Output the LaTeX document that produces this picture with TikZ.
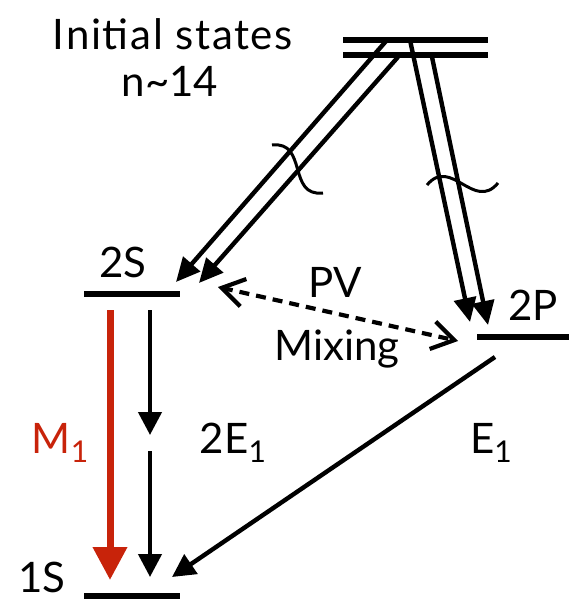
\documentclass[tikz,border=0pt]{standalone}
\usepackage{fontspec}
\setmainfont{Lato}
\usepackage{tikz}
\usetikzlibrary{arrows.meta}
\definecolor{mred}{RGB}{200,35,10}
\newcommand{\lowsub}[1]{\raisebox{-9pt}{\fontsize{30}{30}\selectfont #1}}
\tikzset{
  % --- energy levels ---------------------------------------------------------
  level/.style={line width=5.4pt},
  lab/.style={font=\fontsize{42}{42}\selectfont,anchor=base,inner sep=0pt},
  % --- transitions -----------------------------------------------------------
  cascade/.style={line width=4.4pt,-{Triangle[length=24pt,width=22pt]}},
  decay/.style={line width=4.4pt,-{Triangle[length=23pt,width=23pt]}},
  mdecay/.style={line width=7pt,draw=mred,-{Triangle[length=33pt,width=33pt]}},
  % dashed shaft and solid barbs are drawn apart, so the dashes leave the tips whole
  mixline/.style={line width=4.2pt,dash pattern=on 10pt off 7pt,
                  shorten <=5pt,shorten >=5pt},
  mixtips/.style={tips,line width=4.2pt,solid,
                  {Straight Barb[length=22pt,width=28pt]}-{Straight Barb[length=22pt,width=28pt]}},
  wiggle/.style={line width=3pt},
}

\begin{document}
\begin{tikzpicture}[x=1pt,y=-1pt]
  \useasboundingbox (0,0) rectangle (569,599);

  % levels: {left}/{right}
  \coordinate (n1l) at (343,40);  \coordinate (n1r) at (488,40);
  \coordinate (n2l) at (343,55);  \coordinate (n2r) at (488,55);
  \coordinate (s2l) at (84,294);  \coordinate (s2r) at (180,294);
  \coordinate (p2l) at (477,337); \coordinate (p2r) at (569,337);
  \coordinate (s1l) at (84,596);  \coordinate (s1r) at (180,596);
  \foreach \a/\b in {n1l/n1r,n2l/n2r,s2l/s2r,p2l/p2r,s1l/s1r}
    \draw[level] (\a) -- (\b);

  \node[lab,font=\fontsize{42}{42}\selectfont\addfontfeatures{LetterSpace=4}]
       (init) at (173,50) {Initial states};
  \node[lab] (nval) at (170,97) {n\textasciitilde 14};
  \node[lab] (s2)   at (123,277) {2S};
  \node[lab] (p2)   at (533,320) {2P};
  \node[lab,text depth=0pt] (s1) at (42,592) {1S};
  \node[lab] (pv)   at (335,297) {PV};
  \node[lab] (mixl) at (337,360) {Mixing};
  \node[lab,text=mred] (mlab) at (60,453) {M\lowsub{1}};
  \node[lab] (eel)  at (233,453) {2E\lowsub{1}};
  \node[lab] (el)   at (491,453) {E\lowsub{1}};

  % cascade down from n~14, two lines each way
  \coordinate (ca1) at (387,40);  \coordinate (ta1) at (176,282);
  \coordinate (ca2) at (398,57);  \coordinate (ta2) at (199,283);
  \coordinate (cb1) at (410,40);  \coordinate (tb1) at (470,322);
  \coordinate (cb2) at (432,57);  \coordinate (tb2) at (488,325);
  \foreach \a/\b in {ca1/ta1,ca2/ta2,cb1/tb1,cb2/tb2}
    \draw[cascade] (\a) -- (\b);

  % breaks in the cascade
  \draw[wiggle] (272,145) .. controls (308,141) and (287,197) .. (323,193);
  \draw[wiggle] (427,185) .. controls (451,156) and (474,212) .. (498,183);

  % PV mixing 2S <-> 2P
  \coordinate (mxa) at (218,287); \coordinate (mxb) at (458,341);
  \draw[mixline] (mxa) -- (mxb);
  \path[mixtips] (mxa) -- (mxb);

  % decays to 1S
  \coordinate (ma) at (110,310);  \coordinate (mb) at (110,580);
  \draw[mdecay] (ma) -- (mb);
  \coordinate (ea) at (150,310);  \coordinate (eb) at (150,435);
  \coordinate (ec) at (150,451);  \coordinate (ed) at (150,577);
  \draw[decay] (ea) -- (eb);
  \draw[decay] (ec) -- (ed);
  \coordinate (pa) at (495,357);  \coordinate (pb) at (172,577);
  \draw[decay] (pa) -- (pb);
\end{tikzpicture}
\end{document}
